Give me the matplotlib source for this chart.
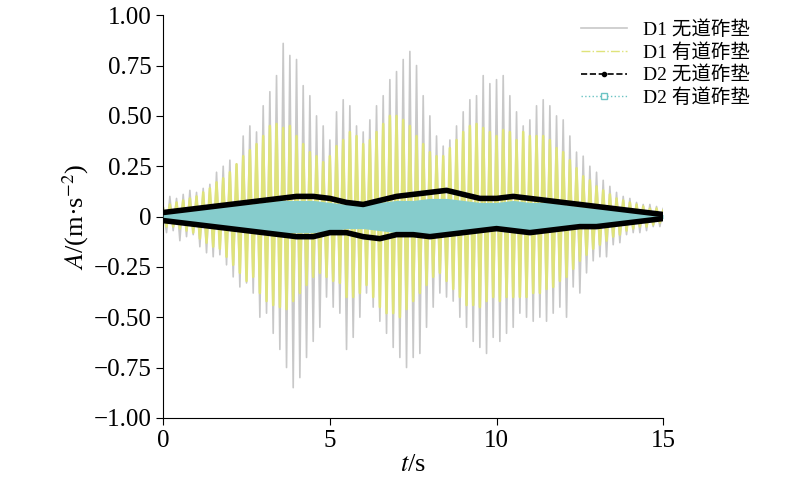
import matplotlib.pyplot as plt
import numpy as np

plt.rcParams['font.family'] = ['Liberation Serif', 'Noto Sans CJK SC']
plt.rcParams['mathtext.fontset'] = 'stix'

# peak samples, one per 0.1 s, sign alternates
d1_none = [
    0.05, -0.08, 0.10, -0.07, 0.09, -0.12, 0.11, -0.10, 0.13, -0.09,
    0.12, -0.15, 0.14, -0.18, 0.16, -0.20, 0.22, -0.19, 0.25, -0.24,
    0.28, -0.30, 0.26, -0.35, 0.40, -0.33, 0.45, -0.38, 0.42, -0.50,
    0.55, -0.48, 0.62, -0.58, 0.70, -0.66, 0.86, -0.75, 0.80, -0.85,
    0.78, -0.80, 0.65, -0.70, 0.60, -0.62, 0.50, -0.55, 0.45, -0.40,
    0.38, -0.45, 0.52, -0.48, 0.58, -0.66, 0.55, -0.60, 0.45, -0.50,
    0.42, -0.38, 0.48, -0.45, 0.55, -0.52, 0.60, -0.58, 0.68, -0.65,
    0.72, -0.70, 0.78, -0.75, 0.82, -0.70, 0.75, -0.68, 0.60, -0.55,
    0.50, -0.45, 0.40, -0.38, 0.35, -0.40, 0.38, -0.42, 0.45, -0.50,
    0.52, -0.55, 0.58, -0.62, 0.60, -0.65, 0.70, -0.68, 0.66, -0.60,
    0.68, -0.62, 0.70, -0.58, 0.60, -0.55, 0.52, -0.48, 0.45, -0.50,
    0.48, -0.52, 0.55, -0.50, 0.58, -0.52, 0.55, -0.48, 0.50, -0.45,
    0.48, -0.50, 0.40, -0.35, 0.32, -0.38, 0.30, -0.28, 0.25, -0.22,
    0.22, -0.20, 0.18, -0.20, 0.15, -0.14, 0.12, -0.13, 0.10, -0.09,
    0.09, -0.08, 0.07, -0.08, 0.06, -0.07, 0.06, -0.05, 0.05, -0.05, 0.04,
]
d1_ballast = [
    0.04, -0.05, 0.06, -0.05, 0.07, -0.06, 0.08, -0.07, 0.09, -0.08,
    0.10, -0.11, 0.12, -0.13, 0.14, -0.15, 0.17, -0.16, 0.19, -0.20,
    0.22, -0.24, 0.26, -0.28, 0.30, -0.32, 0.33, -0.30, 0.36, -0.38,
    0.40, -0.42, 0.45, -0.44, 0.46, -0.45, 0.44, -0.46, 0.45, -0.42,
    0.40, -0.38, 0.36, -0.34, 0.32, -0.30, 0.30, -0.28, 0.27, -0.30,
    0.30, -0.32, 0.35, -0.33, 0.38, -0.40, 0.42, -0.40, 0.40, -0.38,
    0.36, -0.34, 0.38, -0.40, 0.42, -0.45, 0.46, -0.48, 0.50, -0.48,
    0.50, -0.50, 0.48, -0.46, 0.45, -0.42, 0.40, -0.38, 0.36, -0.34,
    0.32, -0.30, 0.30, -0.28, 0.30, -0.32, 0.34, -0.36, 0.38, -0.40,
    0.42, -0.44, 0.45, -0.44, 0.46, -0.45, 0.44, -0.42, 0.42, -0.40,
    0.40, -0.42, 0.43, -0.40, 0.42, -0.40, 0.38, -0.40, 0.42, -0.40,
    0.40, -0.38, 0.40, -0.38, 0.40, -0.36, 0.38, -0.35, 0.34, -0.32,
    0.32, -0.30, 0.28, -0.26, 0.24, -0.22, 0.20, -0.19, 0.18, -0.16,
    0.15, -0.14, 0.13, -0.12, 0.11, -0.10, 0.09, -0.09, 0.08, -0.07,
    0.07, -0.06, 0.06, -0.05, 0.05, -0.05, 0.04, -0.04, 0.04, -0.03, 0.03,
]
# D2 envelopes, one per 0.5 s
t_env = np.arange(0, 15.01, 0.5)
d2_none_upper = [0.02, 0.03, 0.04, 0.05, 0.06, 0.07, 0.08, 0.09, 0.10, 0.10, 0.09,
                 0.07, 0.06, 0.08, 0.10, 0.11, 0.12, 0.13, 0.11, 0.09, 0.09, 0.10,
                 0.09, 0.08, 0.07, 0.06, 0.05, 0.04, 0.03, 0.02, 0.01]
d2_none_lower = [-0.02, -0.03, -0.04, -0.05, -0.06, -0.07, -0.08, -0.09, -0.10, -0.10, -0.08,
                 -0.08, -0.10, -0.11, -0.09, -0.09, -0.10, -0.09, -0.08, -0.07, -0.06, -0.07,
                 -0.08, -0.07, -0.06, -0.05, -0.05, -0.04, -0.03, -0.02, -0.01]
d2_ballast_amp = [0.02, 0.03, 0.04, 0.05, 0.06, 0.06, 0.07, 0.08, 0.08, 0.08, 0.07,
                  0.06, 0.06, 0.07, 0.08, 0.08, 0.09, 0.09, 0.08, 0.07, 0.07, 0.08,
                  0.07, 0.07, 0.06, 0.05, 0.04, 0.04, 0.03, 0.02, 0.01]

t = np.arange(len(d1_none)) * 0.1

fig = plt.figure(figsize=(8, 4.91), dpi=100)
ax = fig.add_axes([0.204, 0.149, 0.625, 0.82])

ax.plot(t, d1_none, color='#c8c8c8', lw=1.2, zorder=2)
ax.plot(t, d1_ballast, color='#dfe37a', lw=1.8, zorder=2)
ax.fill_between(t_env, d2_ballast_amp, np.negative(d2_ballast_amp), color='#86cccc', lw=0, zorder=3)
ax.plot(t_env, d2_none_upper, color='black', lw=4, zorder=4)
ax.plot(t_env, d2_none_lower, color='black', lw=4, zorder=4)

# legend handles
ax.plot([], [], color='#c8c8c8', lw=1.2, label='D1 无道砟垫')
ax.plot([], [], color='#dfe37a', lw=1, ls='-.', label='D1 有道砟垫')
ax.plot([], [], color='black', lw=1.2, ls='--', marker='o', ms=3, label='D2 无道砟垫')
ax.plot([], [], color='#6cc4c4', lw=1, ls=':', marker='s', mfc='white', ms=4, label='D2 有道砟垫')

ax.set_xlim(0, 15)
ax.set_ylim(-1, 1)
ax.spines['top'].set_visible(False)
ax.spines['right'].set_visible(False)
ax.set_xticks([0, 5, 10, 15])
ax.set_yticks(np.arange(-1, 1.01, 0.25))
ax.set_yticklabels(['−1.00', '−0.75', '−0.50', '−0.25', '0', '0.25', '0.50', '0.75', '1.00'])
ax.tick_params(direction='out', labelsize=18, length=5)
ax.set_xlabel('$t$/s', fontsize=19, labelpad=2)
ax.set_ylabel('$A$/(m·s$^{-2}$)', fontsize=19, labelpad=2)
ax.legend(loc='upper left', bbox_to_anchor=(0.80, 1.03), frameon=False, fontsize=14,
          handlelength=2.4, labelspacing=0.2)

fig.savefig('out.png')
